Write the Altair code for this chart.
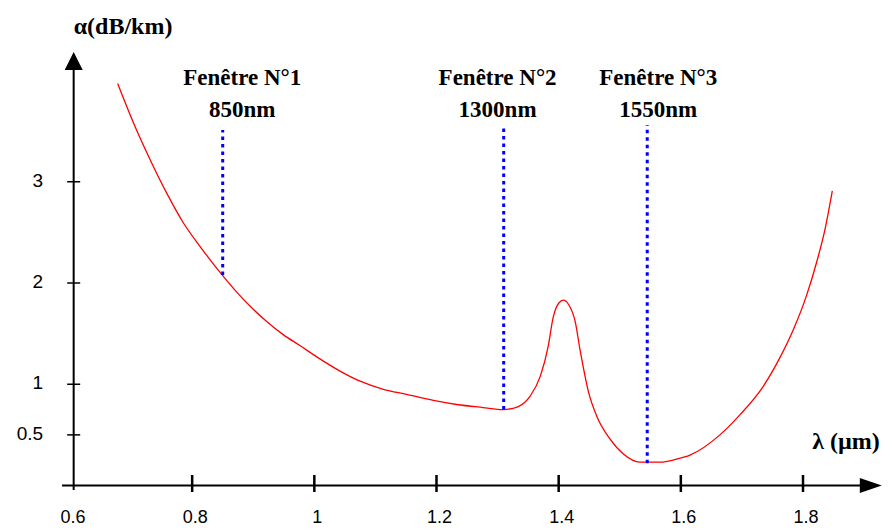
import altair as alt
import pandas as pd

# ---- data ----
wavelength = [0.678, 0.704, 0.731, 0.759, 0.786, 0.813, 0.849, 0.873, 0.895, 0.922,
              0.949, 0.977, 1.004, 1.042, 1.075, 1.113, 1.151, 1.195, 1.233, 1.276,
              1.309, 1.334, 1.353, 1.370, 1.383, 1.391, 1.400, 1.408, 1.416, 1.427,
              1.435, 1.449, 1.462, 1.484, 1.506, 1.533, 1.566, 1.593, 1.615, 1.664,
              1.697, 1.735, 1.762, 1.785, 1.806, 1.823, 1.836, 1.848]
attenuation = [3.97, 3.58, 3.22, 2.88, 2.59, 2.36, 2.08, 1.91, 1.77, 1.62,
               1.49, 1.38, 1.27, 1.13, 1.03, 0.95, 0.90, 0.84, 0.80, 0.77,
               0.75, 0.78, 0.88, 1.08, 1.38, 1.66, 1.80, 1.83, 1.79, 1.62,
               1.34, 0.92, 0.69, 0.46, 0.31, 0.23, 0.23, 0.26, 0.30, 0.50,
               0.70, 0.98, 1.26, 1.55, 1.88, 2.22, 2.53, 2.91]

window_x = [0.85, 1.31, 1.545]
window_top = [3.51, 3.56, 3.56]
window_bottom = [2.08, 0.75, 0.22]
window_names = ["Fenêtre N°1", "Fenêtre N°2", "Fenêtre N°3"]
window_nm = ["850nm", "1300nm", "1550nm"]
window_label_x = [0.882, 1.300, 1.563]

x_tick_values = [0.8, 1.0, 1.2, 1.4, 1.6, 1.8]
x_label_values = [0.6, 0.8, 1.0, 1.2, 1.4, 1.6, 1.8]
x_label_texts = ["0.6", "0.8", "1", "1.2", "1.4", "1.6", "1.8"]
y_tick_values = [0.5, 1, 2, 3]
y_label_texts = ["0.5", "1", "2", "3"]

y_title = "α(dB/km)"
x_title = "λ (µm)"

# axis geometry in data units
axis_x0 = 0.606
axis_xleft = 0.587
axis_xright = 1.90
axis_ybottom = -0.045
axis_ytop = 4.104

xs = alt.Scale(domain=[0.6, 1.8], zero=False, nice=False)
ys = alt.Scale(domain=[0, 4], zero=False, nice=False)


def X(f):
    return alt.X(f, type="quantitative", scale=xs, axis=None)


def Y(f):
    return alt.Y(f, type="quantitative", scale=ys, axis=None)


curve_df = pd.DataFrame({"x": wavelength, "y": attenuation})
win_df = pd.DataFrame({"x": window_x, "y": window_bottom, "y2": window_top})
lab_rows = []
for lx, a, b in zip(window_label_x, window_names, window_nm):
    lab_rows.append({"x": lx, "y": 3.951, "t": a})
    lab_rows.append({"x": lx, "y": 3.644, "t": b})
lab_df = pd.DataFrame(lab_rows)

xtick_df = pd.DataFrame({"x": x_tick_values, "y": [-0.064] * len(x_tick_values),
                         "y2": [0.104] * len(x_tick_values)})
ytick_df = pd.DataFrame({"y": y_tick_values, "x": [0.5954] * len(y_tick_values),
                         "x2": [0.6167] * len(y_tick_values)})
xlab_df = pd.DataFrame({"x": x_label_values, "y": [-0.37] * len(x_label_values),
                        "t": x_label_texts})
ylab_df = pd.DataFrame({"y": y_tick_values, "x": [0.556] * len(y_tick_values),
                        "t": y_label_texts})

curve = alt.Chart(curve_df).mark_line(color="#ff0000", strokeWidth=1.3,
                                      interpolate="monotone").encode(
    x=X("x"), y=Y("y"))

windows = alt.Chart(win_df).mark_rule(color="#0000ff", strokeWidth=3,
                                      strokeDash=[3.5, 4]).encode(
    x=X("x"), y=Y("y"), y2="y2")

win_labels = alt.Chart(lab_df).mark_text(font="Liberation Serif", fontSize=23,
                                         fontWeight="bold", align="center",
                                         baseline="alphabetic", color="black").encode(
    x=X("x"), y=Y("y"), text="t:N")

xaxis = alt.Chart(pd.DataFrame({"x": [axis_xleft], "x2": [axis_xright], "y": [0]})).mark_rule(
    color="black", strokeWidth=2).encode(x=X("x"), x2="x2", y=Y("y"))
yaxis = alt.Chart(pd.DataFrame({"x": [axis_x0], "y": [axis_ybottom], "y2": [axis_ytop]})).mark_rule(
    color="black", strokeWidth=2).encode(x=X("x"), y=Y("y"), y2="y2")

xarrow = alt.Chart(pd.DataFrame({"x": [1.911], "y": [0]})).mark_point(
    shape="M-1,-0.68L1,0L-1,0.68Z", size=484, filled=True, color="black",
    opacity=1, strokeWidth=0).encode(x=X("x"), y=Y("y"))
yarrow = alt.Chart(pd.DataFrame({"x": [axis_x0], "y": [4.193]})).mark_point(
    shape="M-1,1L0,-1L1,1Z", size=324, filled=True, color="black",
    opacity=1, strokeWidth=0).encode(x=X("x"), y=Y("y"))

xticks = alt.Chart(xtick_df).mark_rule(color="black", strokeWidth=2.5).encode(
    x=X("x"), y=Y("y"), y2="y2")
yticks = alt.Chart(ytick_df).mark_rule(color="black", strokeWidth=1.5).encode(
    y=Y("y"), x=X("x"), x2="x2")

xlabels = alt.Chart(xlab_df).mark_text(font="Liberation Sans", fontSize=18,
                                       align="center", baseline="alphabetic",
                                       dx=3, color="black").encode(
    x=X("x"), y=Y("y"), text="t:N")
ylabels = alt.Chart(ylab_df).mark_text(font="Liberation Sans", fontSize=19,
                                       align="right", baseline="middle",
                                       dy=-1, color="black").encode(
    x=X("x"), y=Y("y"), text="t:N")

ytitle = alt.Chart(pd.DataFrame({"x": [axis_x0], "y": [4.459], "t": [y_title]})).mark_text(
    font="Liberation Serif", fontSize=24, fontWeight="bold", align="left",
    baseline="alphabetic", color="black").encode(x=X("x"), y=Y("y"), text="t:N")
xtitle = alt.Chart(pd.DataFrame({"x": [1.815], "y": [0.36], "t": [x_title]})).mark_text(
    font="Liberation Serif", fontSize=24, fontWeight="bold", align="left",
    baseline="alphabetic", color="black").encode(x=X("x"), y=Y("y"), text="t:N")

chart = alt.layer(
    curve, windows, win_labels, xaxis, yaxis, xarrow, yarrow,
    xticks, yticks, xlabels, ylabels, ytitle, xtitle
).properties(
    width=733, height=405,
    padding={"left": 62, "top": 72.5, "right": 81, "bottom": 44},
    autosize=alt.AutoSizeParams(type="none"),
    background="white",
).configure_view(stroke=None)

chart.save("out.html", embed_options={"renderer": "svg", "actions": False})
